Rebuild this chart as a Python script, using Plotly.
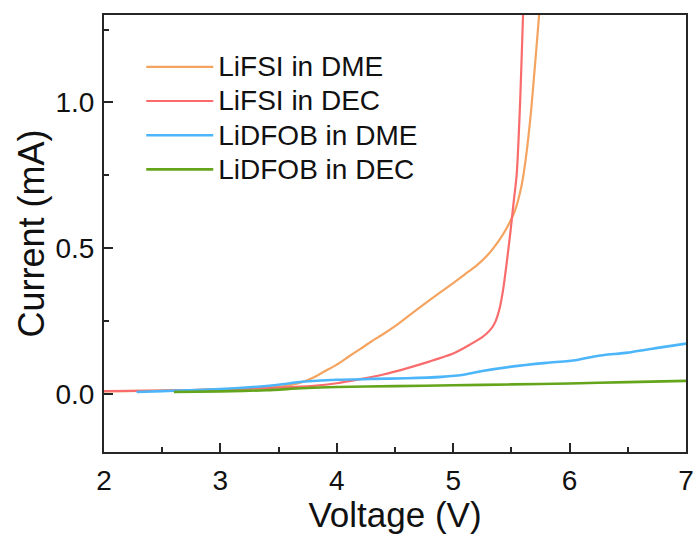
import plotly.graph_objects as go

# Linear sweep voltammetry: current response of four electrolytes
v_lifsi_dme = [2.0, 2.5, 3.0, 3.3, 3.5, 3.6, 3.7, 3.8, 3.9, 4.0, 4.1, 4.2, 4.3, 4.4, 4.5,
               4.6, 4.8, 5.0, 5.1, 5.2, 5.3, 5.4, 5.46, 5.53, 5.59, 5.63, 5.67, 5.70, 5.73, 5.75]
i_lifsi_dme = [0.008, 0.011, 0.015, 0.019, 0.024, 0.030, 0.040, 0.056, 0.078, 0.100, 0.127, 0.153,
               0.180, 0.205, 0.232, 0.262, 0.322, 0.380, 0.410, 0.440, 0.478, 0.530, 0.569, 0.628,
               0.720, 0.827, 0.975, 1.115, 1.26, 1.36]

v_lifsi_dec = [2.0, 2.5, 3.0, 3.5, 3.8, 4.0, 4.2, 4.4, 4.6, 4.8, 5.0, 5.15, 5.25, 5.32, 5.36,
               5.40, 5.43, 5.46, 5.49, 5.52, 5.545, 5.575, 5.60, 5.61]
i_lifsi_dec = [0.009, 0.011, 0.015, 0.021, 0.027, 0.036, 0.050, 0.066, 0.087, 0.111, 0.138,
               0.170, 0.194, 0.220, 0.245, 0.295, 0.360, 0.450, 0.550, 0.660, 0.750, 1.00,
               1.30, 1.40]

v_lidfob_dme = [2.28, 2.5, 2.8, 3.0, 3.25, 3.5, 3.7, 4.0, 4.3, 4.6, 4.9, 5.1, 5.25, 5.5,
                5.8, 6.05, 6.2, 6.3, 6.5, 6.8, 7.0]
i_lidfob_dme = [0.006, 0.009, 0.013, 0.016, 0.022, 0.031, 0.041, 0.048, 0.051, 0.053, 0.058,
                0.066, 0.078, 0.093, 0.106, 0.115, 0.127, 0.133, 0.141, 0.160, 0.172]

v_lidfob_dec = [2.6, 3.0, 3.4, 3.7, 4.0, 4.5, 5.0, 5.5, 6.0, 6.5, 7.0]
i_lidfob_dec = [0.006, 0.008, 0.012, 0.019, 0.023, 0.026, 0.029, 0.032, 0.035, 0.040, 0.044]

names = ["LiFSI in DME", "LiFSI in DEC", "LiDFOB in DME", "LiDFOB in DEC"]
colors = ["#F4A460", "#FA6C6C", "#4DB6FA", "#64A51C"]
widths = [2.2, 2.2, 2.6, 2.6]

x_ticks = [2, 3, 4, 5, 6, 7]
y_ticks = [0.0, 0.5, 1.0]

series = [
    (v_lifsi_dme, i_lifsi_dme),
    (v_lifsi_dec, i_lifsi_dec),
    (v_lidfob_dme, i_lidfob_dme),
    (v_lidfob_dec, i_lidfob_dec),
]

FONT = "Arial, Liberation Sans, sans-serif"
INK = "#262626"

fig = go.Figure()
for (v, i), name, color, w in zip(series, names, colors, widths):
    fig.add_trace(go.Scatter(
        x=v, y=i, mode="lines", line=dict(color=color, width=w, shape="spline", smoothing=0.6),
        name=f'<span style="font-size:28px">{name}</span>',
    ))

axis_common = dict(
    showline=True, linecolor=INK, linewidth=2, mirror=True,
    ticks="inside", ticklen=9, tickwidth=1.5, tickcolor=INK,
    showgrid=False, zeroline=False, automargin=False,
    tickfont=dict(family=FONT, size=28, color="#111"),
)

fig.update_xaxes(
    range=[2, 7], tickvals=x_ticks,
    minor=dict(dtick=0.5, ticks="inside", ticklen=5, tickwidth=1.5, tickcolor=INK),
    title=dict(text="Voltage (V)", font=dict(family=FONT, size=35, color="#111"), standoff=7),
    ticklabelstandoff=2,
    **axis_common,
)
fig.update_yaxes(
    range=[-0.2, 1.3], tickvals=y_ticks, tickformat=".1f",
    minor=dict(dtick=0.25, ticks="inside", ticklen=5, tickwidth=1.5, tickcolor=INK),
    title=dict(text="Current (mA)", font=dict(family=FONT, size=36, color="#111"), standoff=0),
    ticklabelstandoff=2,
    **axis_common,
)

fig.update_layout(
    width=696, height=534,
    margin=dict(l=104, r=10, t=15, b=82),
    paper_bgcolor="white", plot_bgcolor="white",
    showlegend=True,
    legend=dict(
        x=0.064, y=0.932, xanchor="left", yanchor="top",
        font=dict(family=FONT, size=24, color="#111"),
        bgcolor="rgba(0,0,0,0)", itemwidth=67,
    ),
)

fig.write_html("out.html")
